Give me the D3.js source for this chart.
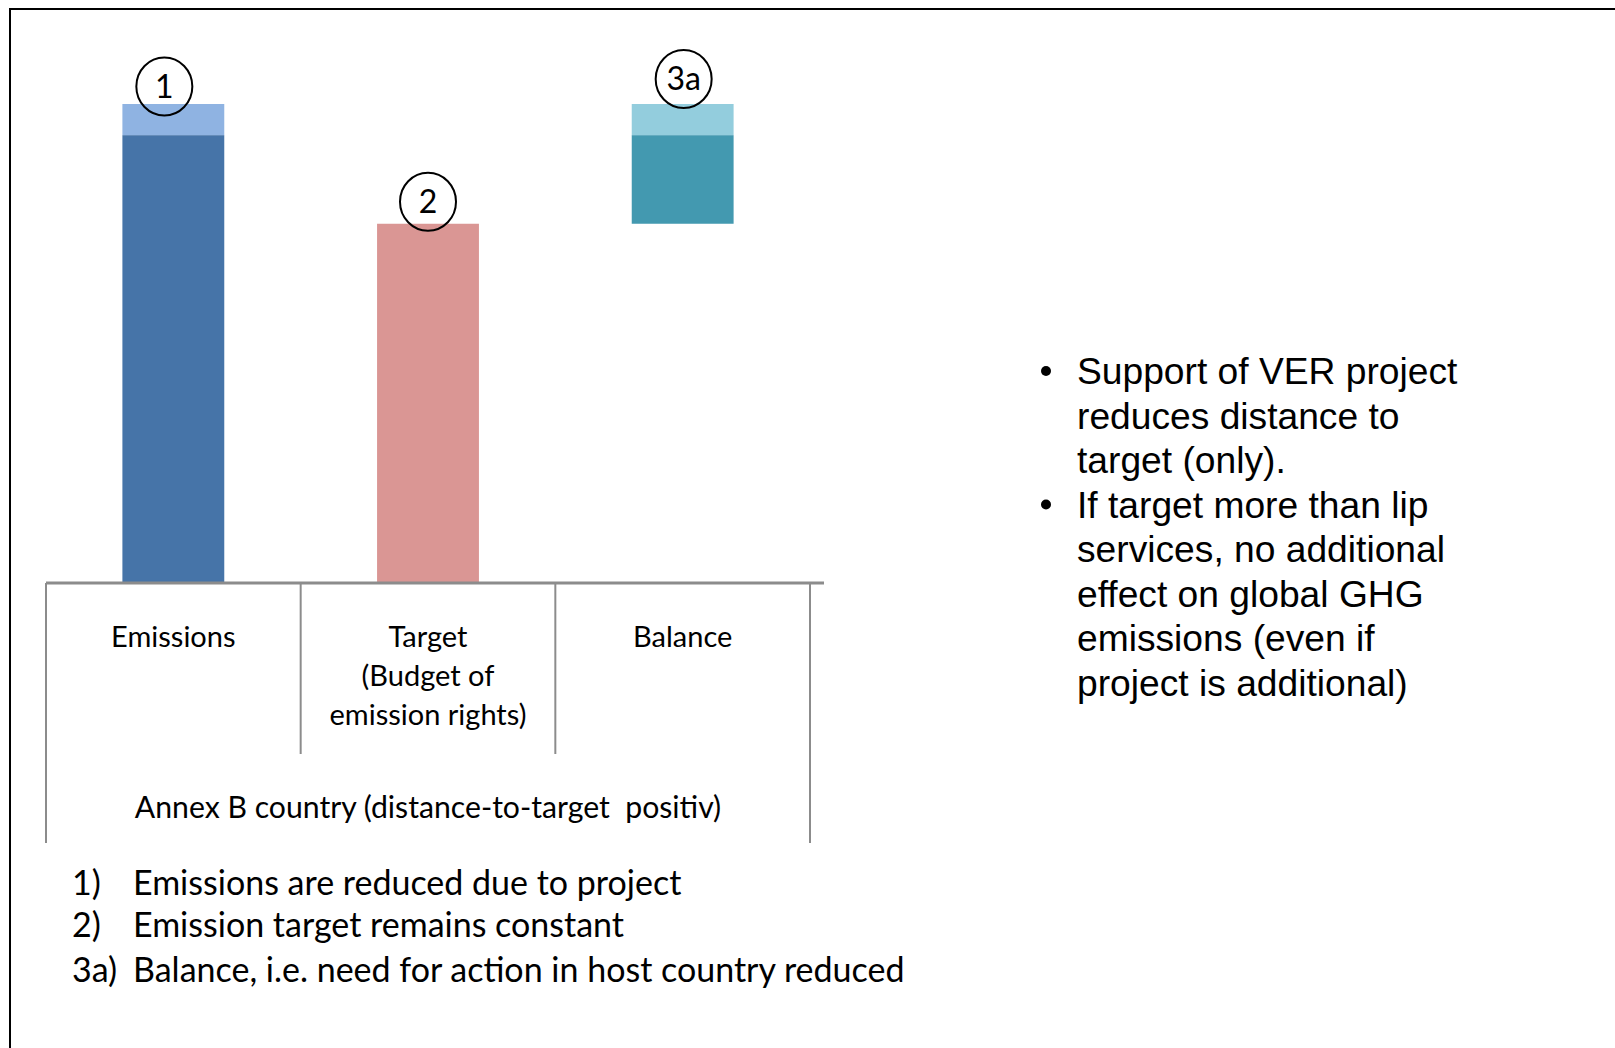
<!DOCTYPE html>
<html>
<head>
<meta charset="utf-8">
<script src="https://cdn.jsdelivr.net/npm/d3@7"></script>
<style>
  html, body { margin: 0; padding: 0; background: #fff; overflow: hidden; }
  svg { display: block; }
</style>
</head>
<body>
<svg id="chart" width="1615" height="1048"></svg>
<script>
// ---------- data ----------
const categories = ["Emissions", "Target", "Balance"];
const categoryLabels = [["Emissions"], ["Target", "(Budget of", "emission rights)"], ["Balance"]];
const groupLabel = "Annex B country (distance-to-target  positiv)";
const darkBottom = [0, 0, 75];      // start of the main segment
const darkTop = [93.5, 75, 93.5];   // end of the main segment
const lightTop = [100, 75, 100];    // end of the reduced (light) segment
const markers = ["1", "2", "3a"];
const footnotes = [
  ["1)", "Emissions are reduced due to project"],
  ["2)", "Emission target remains constant"],
  ["3a)", "Balance, i.e. need for action in host country reduced"]
];
const bullets = [
  ["Support of VER project", "reduces distance to", "target (only)."],
  ["If target more than lip", "services, no additional", "effect on global GHG", "emissions (even if", "project is additional)"]
];

// ---------- styles ----------
const darkColors = ["#4674a8", "#da9694", "#4399b0"];
const lightColors = ["#8fb3e2", "#da9694", "#93cddd"];
const markerOffsets = [[-9, -17.5], [0, -22], [1, -25]];
const calibri = "Lato, 'Open Sans', sans-serif";

const svg = d3.select("#chart");

// frame
svg.append("rect")
  .attr("x", 10).attr("y", 9)
  .attr("width", 1700).attr("height", 1200)
  .attr("fill", "none").attr("stroke", "#000").attr("stroke-width", 2);

// scales
const x = d3.scaleBand().domain(categories).range([46, 810]).paddingInner(0).paddingOuter(0);
const y = d3.scaleLinear().domain([0, 100]).range([583, 104]);
const barW = x.bandwidth() * 0.4;
const bx = c => x(c) + (x.bandwidth() - barW) / 2;

const bars = svg.append("g");
categories.forEach((c, i) => {
  bars.append("rect")
    .attr("x", bx(c)).attr("width", barW)
    .attr("y", y(darkTop[i])).attr("height", y(darkBottom[i]) - y(darkTop[i]))
    .attr("fill", darkColors[i]);
  if (lightTop[i] > darkTop[i]) {
    bars.append("rect")
      .attr("x", bx(c)).attr("width", barW)
      .attr("y", y(lightTop[i])).attr("height", y(darkTop[i]) - y(lightTop[i]))
      .attr("fill", lightColors[i]);
  }
});

// axis (category axis with separators)
const axisG = svg.append("g");
axisG.append("line")
  .attr("x1", 46).attr("x2", 824)
  .attr("y1", y(0)).attr("y2", y(0))
  .attr("stroke", "#8c8c8c").attr("stroke-width", 3);
const seps = categories.map(c => x(c)).concat([x.range()[1]]);
seps.forEach((sx, i) => {
  const outer = (i === 0 || i === seps.length - 1);
  axisG.append("line")
    .attr("x1", sx).attr("x2", sx)
    .attr("y1", y(0)).attr("y2", outer ? 843 : 754)
    .attr("stroke", "#8c8c8c").attr("stroke-width", 2);
});

categories.forEach((c, i) => {
  const t = axisG.append("text")
    .attr("x", x(c) + x.bandwidth() / 2)
    .attr("y", 647)
    .attr("text-anchor", "middle")
    .attr("font-family", calibri)
    .attr("font-size", 29)
    .attr("fill", "#000");
  categoryLabels[i].forEach((line, j) => {
    t.append("tspan").attr("x", x(c) + x.bandwidth() / 2).attr("dy", j === 0 ? 0 : 39).text(line);
  });
});

axisG.append("text")
  .attr("x", (x.range()[0] + x.range()[1]) / 2)
  .attr("y", 818)
  .attr("text-anchor", "middle")
  .attr("font-family", calibri)
  .attr("font-size", 30.2)
  .attr("xml:space", "preserve")
  .text(groupLabel);

// markers
categories.forEach((c, i) => {
  const cx = x(c) + x.bandwidth() / 2 + markerOffsets[i][0];
  const cy = y(lightTop[i]) + markerOffsets[i][1];
  svg.append("ellipse")
    .attr("cx", cx).attr("cy", cy)
    .attr("rx", 28).attr("ry", 29)
    .attr("fill", "none").attr("stroke", "#000").attr("stroke-width", 2);
  svg.append("text")
    .attr("x", cx).attr("y", cy + 11)
    .attr("text-anchor", "middle")
    .attr("font-family", calibri)
    .attr("font-size", 32)
    .text(markers[i]);
});

// footnotes
footnotes.forEach((f, i) => {
  const by = [895, 937, 982][i];
  svg.append("text").attr("x", 72).attr("y", by)
    .attr("font-family", calibri).attr("font-size", 34).text(f[0]);
  svg.append("text").attr("x", 133).attr("y", by)
    .attr("font-family", calibri).attr("font-size", 34).text(f[1]);
});

// bullets
let lineIdx = 0;
const lineH = 44.5;
bullets.forEach(b => {
  const by0 = 384 + lineIdx * lineH;
  svg.append("circle").attr("cx", 1046).attr("cy", by0 - 13).attr("r", 5).attr("fill", "#000");
  b.forEach((line, j) => {
    svg.append("text")
      .attr("x", 1077).attr("y", 384 + lineIdx * lineH)
      .attr("font-family", "'Liberation Sans', Arial, sans-serif")
      .attr("font-size", 37.2)
      .text(line);
    lineIdx++;
  });
});
</script>
</body>
</html>
